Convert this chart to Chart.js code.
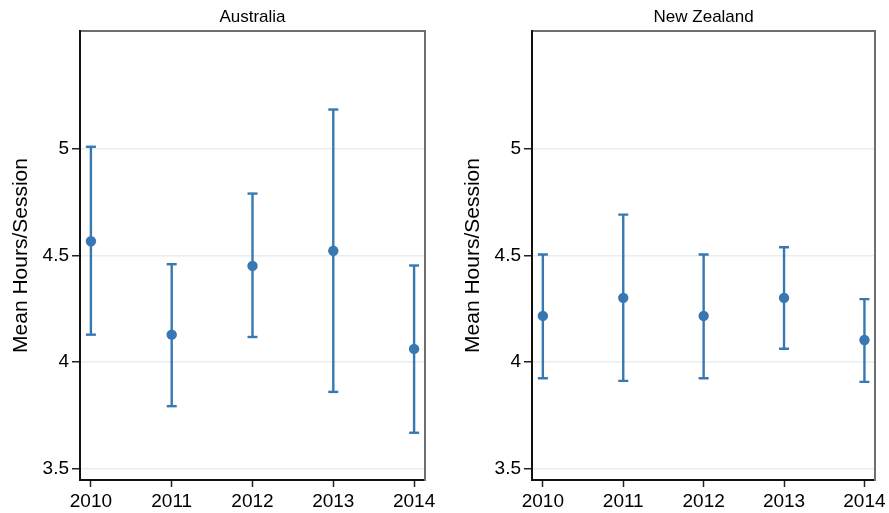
<!DOCTYPE html>
<html>
<head>
<meta charset="utf-8">
<script src="https://cdn.jsdelivr.net/npm/chart.js@4/dist/chart.umd.min.js"></script>
<style>
  html, body { margin: 0; padding: 0; background: #ffffff; overflow: hidden; }
  #wrap { position: relative; width: 889px; height: 513px; }
  canvas { position: absolute; top: 0; }
  #au { left: 0; }
  #nz { left: 452px; }
</style>
</head>
<body>
<div id="wrap">
  <canvas id="au" width="445" height="513"></canvas>
  <canvas id="nz" width="437" height="513"></canvas>
</div>
<script>
// Survey years on the x axis
const years = [2010, 2011, 2012, 2013, 2014];
const yearLabels = ['2010', '2011', '2012', '2013', '2014'];

// Mean hours per session with 95% confidence bounds
const auMean  = [4.567, 4.128, 4.451, 4.522, 4.061];
const auLower = [4.128, 3.792, 4.117, 3.859, 3.667];
const auUpper = [5.011, 4.459, 4.791, 5.186, 4.453];

const nzMean  = [4.216, 4.301, 4.216, 4.301, 4.103];
const nzLower = [3.923, 3.911, 3.923, 4.062, 3.906];
const nzUpper = [4.505, 4.692, 4.505, 4.539, 4.295];

// Y axis ticks
const yTicks = [3.5, 4, 4.5, 5];
const yTickLabels = ['3.5', '4', '4.5', '5'];

const BLUE = '#3778b3';
const FONT = "'Liberation Sans', Arial, Helvetica, sans-serif";
const Y_MIN = 3.445, Y_MAX = 5.555;
const X_MIN = 2009.865, X_MAX = 2014.135;

function makePanel(id, title, mean, lower, upper, padRight) {
  const whiskers = [];
  const caps = [];
  years.forEach((yr, i) => {
    whiskers.push({x: yr, y: lower[i]}, {x: yr, y: upper[i]}, {x: yr, y: null});
    caps.push({x: yr, y: lower[i]}, {x: yr, y: upper[i]});
  });
  const points = years.map((yr, i) => ({x: yr, y: mean[i]}));

  return new Chart(document.getElementById(id), {
    type: 'scatter',
    data: {
      datasets: [
        { label: 'Mean', data: points, pointRadius: 5.2, pointBackgroundColor: BLUE,
          pointBorderColor: BLUE, pointBorderWidth: 0, showLine: false },
        { label: 'CI', data: whiskers, showLine: true, spanGaps: false, borderColor: BLUE,
          borderWidth: 2.4, pointRadius: 0, tension: 0 },
        { label: 'Caps', data: caps, showLine: false, pointStyle: 'line', pointRadius: 5,
          pointBorderColor: BLUE, pointBorderWidth: 2.4 }
      ]
    },
    options: {
      responsive: false,
      animation: false,
      devicePixelRatio: 1,
      layout: { padding: { left: 0, right: padRight, top: 0, bottom: 0 } },
      plugins: { legend: { display: false }, tooltip: { enabled: false }, title: { display: false } },
      scales: {
        x: {
          type: 'linear', position: 'bottom', min: X_MIN, max: X_MAX,
          afterBuildTicks: s => { s.ticks = years.map(v => ({value: v})); },
          afterFit: s => { s.height = 33; },
          ticks: {
            autoSkip: false, maxRotation: 0, padding: 3, color: '#000',
            font: { family: FONT, size: 19 },
            callback: (v, i) => yearLabels[i]
          },
          grid: { display: true, drawOnChartArea: false, drawTicks: true, tickLength: 7,
                  tickColor: '#222', tickWidth: 1.5 },
          border: { display: true, color: '#111', width: 2 }
        },
        x2: {
          type: 'linear', position: 'top', min: X_MIN, max: X_MAX,
          afterFit: s => { s.height = 31; },
          ticks: { display: false },
          grid: { display: false },
          border: { display: true, color: '#6e6e6e', width: 2 },
          title: { display: true, text: title, color: '#000', padding: { top: 7, bottom: 0 },
                   font: { family: FONT, size: 17 } }
        },
        y: {
          type: 'linear', position: 'left', min: Y_MIN, max: Y_MAX,
          afterBuildTicks: s => { s.ticks = yTicks.map(v => ({value: v})); },
          afterFit: s => { s.width = 80; },
          ticks: {
            padding: 3, color: '#000', font: { family: FONT, size: 19 },
            callback: (v, i) => yTickLabels[i]
          },
          grid: { display: true, drawOnChartArea: true, drawTicks: true, tickLength: 8,
                  color: '#e6eeee', lineWidth: 1.5, tickColor: '#222', tickWidth: 1.5 },
          border: { display: true, color: '#111', width: 2 },
          title: { display: true, text: 'Mean Hours/Session', color: '#000',
                   padding: { top: 9, bottom: 0 }, font: { family: FONT, size: 21 } }
        },
        y2: {
          type: 'linear', position: 'right', min: Y_MIN, max: Y_MAX,
          afterFit: s => { s.width = 0; },
          ticks: { display: false },
          grid: { display: false },
          border: { display: true, color: '#6e6e6e', width: 2 }
        }
      }
    }
  });
}

makePanel('au', 'Australia', auMean, auLower, auUpper, 20);
makePanel('nz', 'New Zealand', nzMean, nzLower, nzUpper, 12);
</script>
</body>
</html>
